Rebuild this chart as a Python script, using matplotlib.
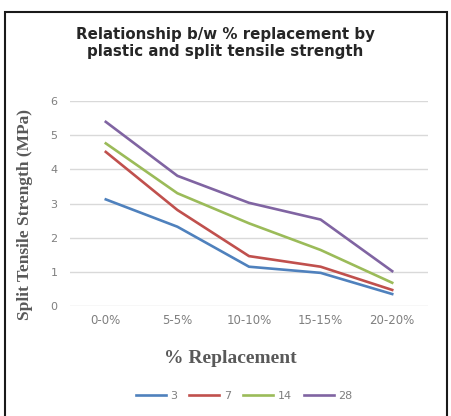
import matplotlib.pyplot as plt
from matplotlib.patches import Rectangle

# data
categories = ['0-0%', '5-5%', '10-10%', '15-15%', '20-20%']
days = ['3', '7', '14', '28']
day3 = [3.12, 2.32, 1.15, 0.97, 0.35]
day7 = [4.51, 2.81, 1.46, 1.15, 0.47]
day14 = [4.76, 3.30, 2.42, 1.64, 0.68]
day28 = [5.39, 3.81, 3.02, 2.53, 1.02]
colors = ['#4F81BD', '#C0504D', '#9BBB59', '#8064A2']

W, H = 451, 416
fig = plt.figure(figsize=(W / 100, H / 100), dpi=100)
ax = fig.add_axes([70 / W, 110 / H, 358 / W, 205 / H])

x = list(range(len(categories)))
for vals, lab, c in zip([day3, day7, day14, day28], days, colors):
    ax.plot(x, vals, color=c, lw=1.9, label=lab, solid_joinstyle='round')

ax.set_xlim(-0.5, len(categories) - 0.5)
ax.set_ylim(0, 6)
ax.set_yticks(range(7))
ax.set_xticks(x)
ax.set_xticklabels(categories)
ax.grid(axis='y', color='#D9D9D9', lw=1)
ax.set_axisbelow(True)
for s in ax.spines.values():
    s.set_visible(False)
ax.tick_params(length=0, labelsize=8.5, colors='#7F7F7F', pad=6)
ax.tick_params(axis='y', labelsize=8, pad=9)

ax.set_xlabel('% Replacement', family='Liberation Serif', fontsize=14,
              fontweight='bold', color='#595959')
ax.xaxis.set_label_coords((230 - 70) / 358, -(350 - 306) / 205)
ax.set_ylabel('Split Tensile Strength (MPa)', family='Liberation Serif',
              fontsize=12.5, fontweight='bold', color='#595959')
ax.yaxis.set_label_coords(-(70 - 33) / 358, (306 - 215) / 205)

fig.text(0.5, 1 - 43 / H, 'Relationship b/w % replacement by\nplastic and split tensile strength',
         ha='center', va='center', fontsize=10.8, fontweight='bold',
         color='#262626', linespacing=1.2)

fig.legend(loc='center', bbox_to_anchor=(244 / W, 1 - 396 / H), ncol=4,
           frameon=False, fontsize=8, labelcolor='#7F7F7F',
           handlelength=2.7, handletextpad=0.4, columnspacing=1.1)

fig.patches.append(Rectangle((4.5 / W, -0.05), 442 / W, 1.05 - 12.5 / H,
                             transform=fig.transFigure, fill=False,
                             edgecolor='#1A1A1A', lw=1.5))

fig.savefig('out.png', dpi=100)
